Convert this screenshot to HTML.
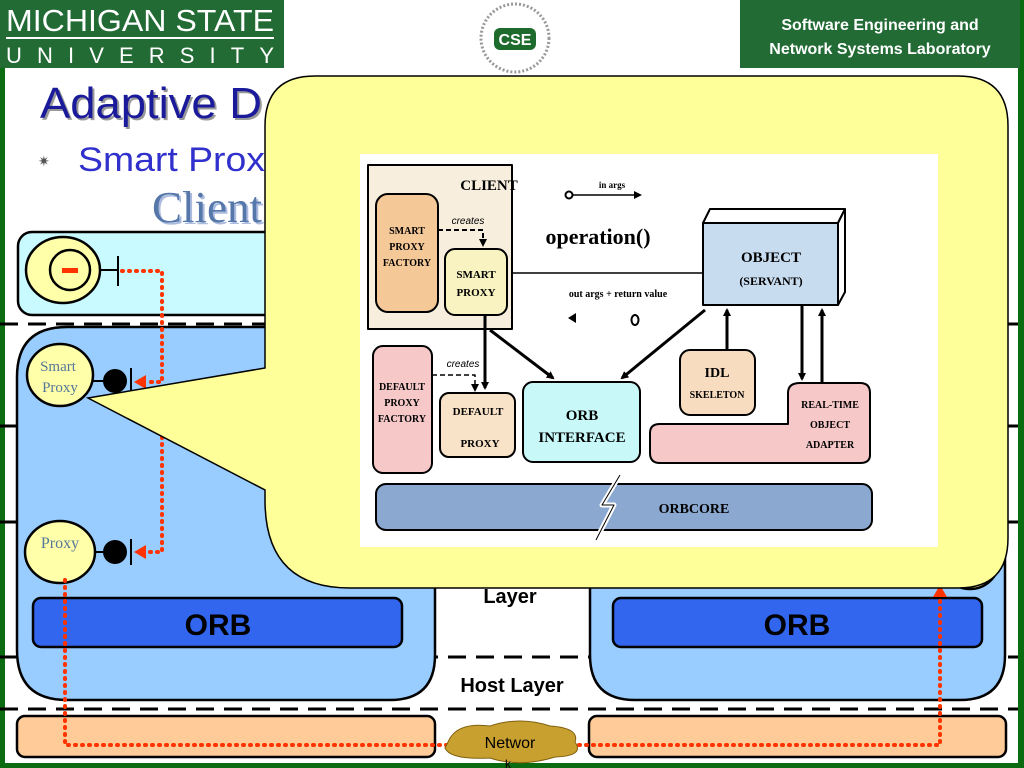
<!DOCTYPE html>
<html><head><meta charset="utf-8"><style>
body{margin:0;width:1024px;height:768px;overflow:hidden;background:#fff;font-family:"Liberation Sans",sans-serif}
</style></head><body>
<svg width="1024" height="768" viewBox="0 0 1024 768" xmlns="http://www.w3.org/2000/svg" style="position:absolute;left:0;top:0">
<defs>
<marker id="ah" markerWidth="8" markerHeight="8" refX="6" refY="4" orient="auto" markerUnits="userSpaceOnUse"><path d="M0,0 L8,4 L0,8z" fill="#000"/></marker>
</defs>
<rect x="0" y="0" width="1024" height="768" fill="#fff"/>
<rect x="0" y="0" width="5" height="768" fill="#0b6b10"/>
<rect x="1018" y="0" width="6" height="768" fill="#0b6b10"/>
<rect x="0" y="763" width="1024" height="5" fill="#0b6b10"/>
<rect x="0" y="0" width="284" height="68" fill="#226b35"/>
<text x="6" y="31" font-size="31" fill="#fff" textLength="268" lengthAdjust="spacingAndGlyphs">MICHIGAN STATE</text>
<rect x="6" y="37" width="268" height="2" fill="#fff"/>
<text x="6" y="63" font-size="22" fill="#fff" textLength="268" lengthAdjust="spacing">UNIVERSITY</text>
<rect x="740" y="0" width="280" height="68" fill="#226b35"/>
<text x="880" y="30" font-size="16" font-weight="bold" fill="#fff" text-anchor="middle">Software Engineering and</text>
<text x="880" y="54" font-size="16" font-weight="bold" fill="#fff" text-anchor="middle">Network Systems Laboratory</text>
<circle cx="515" cy="38" r="34" fill="#fff" stroke="#999" stroke-width="3" stroke-dasharray="2 2"/>
<rect x="494" y="28" width="42" height="22" rx="6" fill="#1e6b2e"/>
<text x="515" y="45" font-size="16" font-weight="bold" fill="#fff" text-anchor="middle">CSE</text>
<text x="42" y="120" font-size="44" fill="#999" textLength="222" lengthAdjust="spacingAndGlyphs">Adaptive D</text>
<text x="40" y="118" font-size="44" fill="#1a1a9a" textLength="222" lengthAdjust="spacingAndGlyphs">Adaptive D</text>
<text x="38" y="166" font-size="14" fill="#555">✷</text>
<text x="78" y="171" font-size="34" fill="#3030cc" textLength="187" lengthAdjust="spacingAndGlyphs">Smart Prox</text>
<text x="154" y="224" font-size="44" fill="#aabbdd" font-family="Liberation Serif,serif" textLength="110" lengthAdjust="spacingAndGlyphs">Client</text>
<text x="152" y="222" font-size="44" fill="#5577aa" font-family="Liberation Serif,serif" textLength="110" lengthAdjust="spacingAndGlyphs">Client</text>
<rect x="18" y="232" width="988" height="83" rx="14" fill="#c8faff" stroke="#000" stroke-width="2.5"/>
<g stroke="#000" stroke-width="3" stroke-dasharray="18 10">
<line x1="0" y1="324" x2="1018" y2="324"/><line x1="0" y1="426" x2="1018" y2="426"/>
<line x1="0" y1="522" x2="1018" y2="522"/><line x1="0" y1="657" x2="1018" y2="657"/>
<line x1="0" y1="709" x2="1018" y2="709"/></g>
<path d="M67,327 H435 V655 Q435,700 390,700 H67 Q17,700 17,650 V377 Q17,327 67,327Z" fill="#99ccff" stroke="#000" stroke-width="2.5"/>
<path d="M620,327 H1005 V655 Q1005,700 960,700 H635 Q590,700 590,655 V357 Q590,327 620,327Z" fill="#99ccff" stroke="#000" stroke-width="2.5"/>
<rect x="33" y="598" width="369" height="49" rx="8" fill="#3366ee" stroke="#000" stroke-width="2.5"/>
<text x="218" y="635" font-size="30" font-weight="bold" text-anchor="middle">ORB</text>
<rect x="613" y="598" width="369" height="49" rx="8" fill="#3366ee" stroke="#000" stroke-width="2.5"/>
<text x="797" y="635" font-size="30" font-weight="bold" text-anchor="middle">ORB</text>
<text x="510" y="603" font-size="20" font-weight="bold" text-anchor="middle">Layer</text>
<text x="512" y="692" font-size="20" font-weight="bold" text-anchor="middle">Host Layer</text>
<rect x="17" y="716" width="418" height="41" rx="8" fill="#ffcc99" stroke="#000" stroke-width="2.5"/>
<rect x="589" y="716" width="417" height="41" rx="8" fill="#ffcc99" stroke="#000" stroke-width="2.5"/>
<ellipse cx="63" cy="270" rx="37" ry="33" fill="#ffffaa" stroke="#000" stroke-width="2.5"/>
<circle cx="70" cy="270" r="20" fill="none" stroke="#000" stroke-width="2.5"/>
<rect x="62" y="268" width="16" height="5" fill="#ff3300"/>
<line x1="100" y1="270" x2="118" y2="270" stroke="#000" stroke-width="2"/>
<line x1="118" y1="256" x2="118" y2="286" stroke="#000" stroke-width="2"/>
<ellipse cx="60" cy="375" rx="33" ry="31" fill="#ffffaa" stroke="#000" stroke-width="2.5"/>
<text x="58" y="371" font-size="15" fill="#557799" text-anchor="middle" font-family="Liberation Serif,serif">Smart</text>
<text x="60" y="392" font-size="15" fill="#557799" text-anchor="middle" font-family="Liberation Serif,serif">Proxy</text>
<line x1="93" y1="381" x2="105" y2="381" stroke="#000" stroke-width="2"/>
<circle cx="115" cy="381" r="12"/><line x1="131" y1="368" x2="131" y2="394" stroke="#000" stroke-width="2"/>
<ellipse cx="60" cy="552" rx="35" ry="31" fill="#ffffaa" stroke="#000" stroke-width="2.5"/>
<text x="60" y="548" font-size="16" fill="#557799" text-anchor="middle" font-family="Liberation Serif,serif">Proxy</text>
<line x1="95" y1="552" x2="105" y2="552" stroke="#000" stroke-width="2"/>
<circle cx="115" cy="552" r="12"/><line x1="131" y1="539" x2="131" y2="565" stroke="#000" stroke-width="2"/>
<g fill="none" stroke="#ff3300" stroke-width="4" stroke-dasharray="1 6" stroke-linecap="round">
<path d="M122,271 H162 V382 H145"/><path d="M162,430 V552 H145"/>
<path d="M65,580 V745 H940 V595"/></g>
<path d="M134,382 L146,375 L146,389z" fill="#ff3300"/>
<path d="M134,552 L146,545 L146,559z" fill="#ff3300"/>
<path d="M940,585 L933,597 L947,597z" fill="#ff3300"/>
<path d="M450,738 Q460,722 490,726 Q520,716 550,726 Q580,728 575,742 Q585,756 555,757 Q520,768 490,758 Q450,760 445,748z" fill="#c8a030" stroke="#806010" stroke-width="1"/>
<text x="510" y="748" font-size="16" text-anchor="middle">Networ</text>
<text x="505" y="768" font-size="12">k</text>
<ellipse cx="970" cy="563" rx="28" ry="26" fill="#ffff99" stroke="#000" stroke-width="2.5"/>
<path d="M315,76 H958 Q1008,76 1008,126 V538 Q1008,588 958,588 H350 Q265,588 265,500 V490 L88,398 L265,368 V126 Q265,76 315,76Z" fill="#ffff99" stroke="#000" stroke-width="1.5"/>
<rect x="360" y="154" width="578" height="393" fill="#fff"/>
<g font-family="Liberation Serif,serif" font-weight="bold" text-anchor="middle" stroke-linejoin="round">
<rect x="368" y="165" width="144" height="164" fill="#f8eedd" stroke="#000" stroke-width="2"/>
<text x="489" y="190" font-size="15">CLIENT</text>
<rect x="376" y="194" width="62" height="118" rx="12" fill="#f5c898" stroke="#000" stroke-width="2"/>
<text x="407" y="234" font-size="10">SMART</text><text x="407" y="250" font-size="10">PROXY</text><text x="407" y="266" font-size="10">FACTORY</text>
<rect x="445" y="249" width="62" height="66" rx="10" fill="#f8f3c0" stroke="#000" stroke-width="2"/>
<text x="476" y="278" font-size="11">SMART</text><text x="476" y="296" font-size="11">PROXY</text>
<text x="468" y="224" font-size="10" font-weight="normal" font-style="italic" font-family="Liberation Sans,sans-serif">creates</text>
<path d="M438,230 H483 V245" fill="none" stroke="#000" stroke-width="2" stroke-dasharray="5 3" marker-end="url(#ah)"/>
<rect x="373" y="346" width="59" height="127" rx="10" fill="#f6c8c8" stroke="#000" stroke-width="2"/>
<text x="402" y="390" font-size="10">DEFAULT</text><text x="402" y="406" font-size="10">PROXY</text><text x="402" y="422" font-size="10">FACTORY</text>
<rect x="440" y="393" width="75" height="64" rx="9" fill="#f8e2c8" stroke="#000" stroke-width="2"/>
<text x="478" y="415" font-size="11">DEFAULT</text><text x="480" y="447" font-size="11">PROXY</text>
<text x="463" y="367" font-size="10" font-weight="normal" font-style="italic" font-family="Liberation Sans,sans-serif">creates</text>
<path d="M432,375 H475 V390" fill="none" stroke="#000" stroke-width="1.5" stroke-dasharray="5 3" marker-end="url(#ah)"/>
<rect x="523" y="382" width="117" height="80" rx="10" fill="#c8f8f8" stroke="#000" stroke-width="2"/>
<text x="582" y="420" font-size="15">ORB</text><text x="582" y="442" font-size="15">INTERFACE</text>
<rect x="680" y="350" width="75" height="65" rx="10" fill="#f8dcc0" stroke="#000" stroke-width="2"/>
<text x="717" y="377" font-size="14">IDL</text><text x="717" y="398" font-size="10">SKELETON</text>
<path d="M800,383 H860 Q870,383 870,393 V455 Q870,463 860,463 H660 Q650,463 650,453 V433 Q650,424 660,424 H788 V393 Q788,383 800,383Z" fill="#f6c8c8" stroke="#000" stroke-width="2"/>
<text x="830" y="408" font-size="10">REAL-TIME</text><text x="830" y="428" font-size="10">OBJECT</text><text x="830" y="448" font-size="10">ADAPTER</text>
<rect x="376" y="484" width="496" height="46" rx="10" fill="#8aa8d0" stroke="#000" stroke-width="2"/>
<text x="694" y="513" font-size="14">ORBCORE</text>
<path d="M620,475 L602,505 L614,505 L596,540" fill="none" stroke="#fff" stroke-width="5"/>
<path d="M620,475 L602,505 L614,505 L596,540" fill="none" stroke="#000" stroke-width="1"/>
<path d="M703,223 L710,209 H845 L838,223Z" fill="#fff" stroke="#000" stroke-width="2"/>
<path d="M838,223 L845,209 V292 L838,305Z" fill="#fff" stroke="#000" stroke-width="2"/>
<rect x="703" y="223" width="135" height="82" fill="#c8dcf0" stroke="#000" stroke-width="2"/>
<text x="771" y="262" font-size="15">OBJECT</text><text x="771" y="285" font-size="12">(SERVANT)</text>
<text x="598" y="244" font-size="22" font-weight="bold">operation()</text>
<text x="612" y="188" font-size="9">in args</text>
<circle cx="569" cy="195" r="3.5" fill="#fff" stroke="#000" stroke-width="2"/>
<line x1="573" y1="195" x2="640" y2="195" stroke="#000" stroke-width="1.5" marker-end="url(#ah)"/>
<line x1="512" y1="273" x2="703" y2="273" stroke="#000" stroke-width="1.5"/>
<text x="618" y="297" font-size="10">out args + return value</text>
<path d="M568,318 L576,313 V323z" fill="#000"/>
<ellipse cx="635" cy="320" rx="3.5" ry="5" fill="#fff" stroke="#000" stroke-width="2"/>
<g stroke="#000" stroke-width="3" fill="none" marker-end="url(#ah)">
<line x1="485" y1="315" x2="485" y2="388"/>
<line x1="490" y1="330" x2="553" y2="378"/>
<line x1="705" y1="310" x2="622" y2="378"/>
<line x1="727" y1="350" x2="727" y2="310"/>
<line x1="802" y1="305" x2="802" y2="379"/>
<line x1="822" y1="383" x2="822" y2="310"/>
</g></g>
</svg>
</body></html>
